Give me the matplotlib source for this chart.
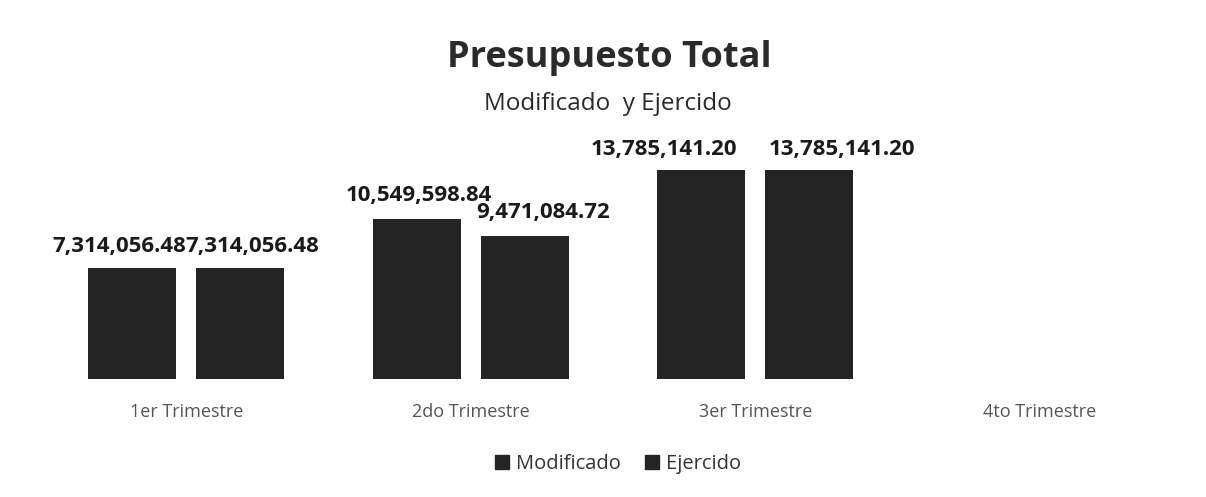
import matplotlib
matplotlib.use("Agg")
import matplotlib.pyplot as plt
import numpy as np
from matplotlib.patches import Patch

categories = ["1er Trimestre", "2do Trimestre", "3er Trimestre", "4to Trimestre"]
modificado = [7314056.48, 10549598.84, 13785141.20, None]
ejercido = [7314056.48, 9471084.72, 13785141.20, None]
series_names = ["Modificado", "Ejercido"]

# label offsets in pixels (dx, dy) to mimic the original placement
mod_offsets = [(-13, 16), (2, 18), (-37, 15)]
eje_offsets = [(12, 16), (18, 18), (33, 15)]

FONT = "Open Sans"
BAR_COLOR = "#242424"

fig = plt.figure(figsize=(12.06, 4.97), dpi=100)
ax = fig.add_axes([44 / 1206, (497 - 379) / 497, (1182 - 44) / 1206, 242 / 497])

x = np.arange(len(categories))
w = 0.31
off = 0.19
mv = [v if v is not None else 0 for v in modificado]
ev = [v if v is not None else 0 for v in ejercido]
ax.bar(x - off, mv, w, color=BAR_COLOR)
ax.bar(x + off, ev, w, color=BAR_COLOR)

ax.set_xlim(-0.5, 3.5)
ax.set_ylim(0, 16_000_000)
ax.set_xticks(x)
ax.set_xticklabels(categories, fontsize=13, color="#555555", family=FONT)
ax.tick_params(axis="x", length=0, pad=17)
ax.set_yticks([])
for s in ax.spines.values():
    s.set_visible(False)

def fmt(v):
    return f"{v:,.2f}"

for i, v in enumerate(modificado):
    if v is None:
        continue
    ax.annotate(fmt(v), (x[i] - off, v), xytext=mod_offsets[i], textcoords="offset pixels",
                ha="center", va="baseline", fontsize=16, fontweight="bold", family=FONT, color="#1a1a1a")
for i, v in enumerate(ejercido):
    if v is None:
        continue
    ax.annotate(fmt(v), (x[i] + off, v), xytext=eje_offsets[i], textcoords="offset pixels",
                ha="center", va="baseline", fontsize=16, fontweight="bold", family=FONT, color="#1a1a1a")

fig.text(609 / 1206, 1 - 67 / 497, "Presupuesto Total", ha="center", va="baseline",
         fontsize=26, fontweight="bold", family=FONT, color="#2a2a2a")
fig.text(608 / 1206, 1 - 110 / 497, "Modificado  y Ejercido", ha="center", va="baseline",
         fontsize=17.5, family=FONT, color="#2a2a2a")

handles = [Patch(color=BAR_COLOR, label=n) for n in series_names]
fig.legend(handles=handles, loc="center", bbox_to_anchor=(618 / 1206, 1 - 464 / 497), ncol=2,
           frameon=False, prop={"family": FONT, "size": 14.5}, handlelength=0.7, handleheight=0.7,
           handletextpad=0.35, columnspacing=1.2, labelcolor="#333333")

fig.savefig("out.png", dpi=100, facecolor="white")
